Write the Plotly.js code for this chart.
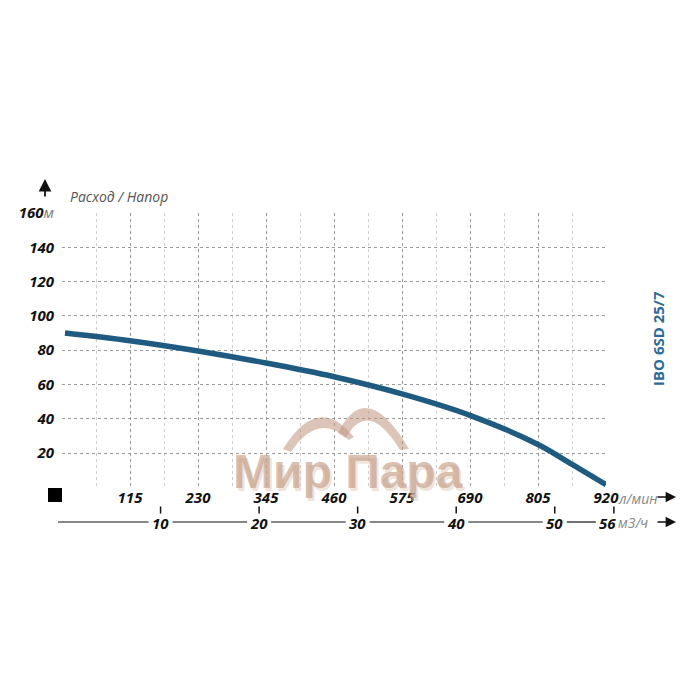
<!DOCTYPE html>
<html>
<head>
<meta charset="utf-8">
<script src="https://cdn.plot.ly/plotly-3.0.1.min.js"></script>
<style>html,body{margin:0;padding:0;background:#fff}</style>
</head>
<body>
<div id="chart" style="width:700px;height:700px"></div>
<script>
// ---- data ----
const flowLpm = [5, 115, 230, 345, 460, 575, 690, 805, 862, 920];
const headM   = [90, 85.5, 79.5, 72.5, 64.5, 54.5, 42, 25, 13.5, 1.5];
const lpmTicks = [0, 115, 230, 345, 460, 575, 690, 805, 920];
const lpmLabels = ['', '115', '230', '345', '460', '575', '690', '805', '920'];
const m3hTicks = [10, 20, 30, 40, 50, 56];
const m3hLabels = ['10', '20', '30', '40', '50', '56'];
const headTicks = [20, 40, 60, 80, 100, 120, 140, 160];
const headLabels = ['20', '40', '60', '80', '100', '120', '140', '160<span style="font-weight:normal;color:#777">м</span>'];
const headGrid = [0, 20, 40, 60, 80, 100, 120, 140];
const modelName = 'IBO 6SD 25/7';
const axisTitle = 'Расход / Напор';
const flowUnit = 'л/мин';
const flowUnit2 = 'м3/ч';
const watermark = 'Мир Пара';

// ---- layout geometry ----
const W = 700, H = 700;
const M = {l: 62, r: 60, t: 213, b: 160};
const PW = W - M.l - M.r, PH = H - M.t - M.b;
const px = x => (x - M.l) / PW;
const py = y => (H - M.b - y) / PH;
const xDomEnd = px(606);
const yDomStart = py(487.3);
const lpmMax = 920;
const m3hMax = lpmMax * 60 / 1000 / xDomEnd;   // xaxis2 spans the full paper width
const lastShift = -6;                           // px nudge of the last m3/h label

const numFont = {family: 'Open Sans, DejaVu Sans, sans-serif', size: 15, color: '#111', weight: 'bold', style: 'italic'};
const unitFont = {family: 'Open Sans, sans-serif', size: 14, color: '#888', style: 'italic'};

const traces = [
  {
    x: flowLpm, y: headM, type: 'scatter', mode: 'lines',
    line: {color: '#1f5b80', width: 5.5, shape: 'spline', smoothing: 1},
    hoverinfo: 'skip', xaxis: 'x', yaxis: 'y'
  },
  {
    // small tick marks above the m3/h labels
    x: m3hTicks, y: m3hTicks.map(() => 0.5), type: 'scatter', mode: 'markers',
    marker: {symbol: 'line-ns-open', size: 5, color: '#111', line: {color: '#111', width: 1.5}},
    cliponaxis: false, hoverinfo: 'skip', xaxis: 'x2', yaxis: 'y2', showlegend: false
  }
];

const annotations = m3hTicks.map((v, i) => ({
  xref: 'x2', yref: 'paper', x: v, y: py(522.5), text: m3hLabels[i],
  showarrow: false, font: numFont,
  xanchor: 'center', yanchor: 'middle', xshift: i === m3hTicks.length - 1 ? lastShift : 0
}));

annotations.push(
  {xref: 'paper', yref: 'paper', x: px(616), y: py(498), text: flowUnit, showarrow: false,
   xanchor: 'left', yanchor: 'middle', font: unitFont},
  {xref: 'paper', yref: 'paper', x: px(616), y: py(522.5), text: flowUnit2, showarrow: false,
   xanchor: 'left', yanchor: 'middle', font: unitFont},
  {xref: 'paper', yref: 'paper', x: px(676), y: py(497), ax: -20, ay: 0, text: '',
   showarrow: true, arrowhead: 2, arrowsize: 1.3, arrowwidth: 1.6, arrowcolor: '#111'},
  {xref: 'paper', yref: 'paper', x: px(676), y: py(522), ax: -20, ay: 0, text: '',
   showarrow: true, arrowhead: 2, arrowsize: 1.3, arrowwidth: 1.6, arrowcolor: '#111'},
  {xref: 'paper', yref: 'paper', x: px(45), y: py(179), ax: 0, ay: 19, text: '',
   showarrow: true, arrowhead: 2, arrowsize: 1.4, arrowwidth: 1.8, arrowcolor: '#111'},
  {xref: 'paper', yref: 'paper', x: px(68), y: py(197), text: axisTitle, showarrow: false,
   xanchor: 'left', yanchor: 'middle', font: {family: 'Open Sans, sans-serif', size: 14, color: '#555', style: 'italic'}},
  {xref: 'paper', yref: 'paper', x: px(658), y: py(339), text: modelName, showarrow: false,
   textangle: -90, xanchor: 'center', yanchor: 'middle',
   font: {family: 'Open Sans, sans-serif', size: 15, color: '#2c6b98', weight: 'bold'}},
  {xref: 'paper', yref: 'paper', x: px(350), y: py(474), text: watermark, showarrow: false,
   xanchor: 'center', yanchor: 'middle',
   font: {family: 'Liberation Sans, Arial, sans-serif', size: 48, color: 'rgba(225,205,190,0.55)', weight: 'bold'}},
  {xref: 'paper', yref: 'paper', x: px(347.5), y: py(471), text: watermark, showarrow: false,
   xanchor: 'center', yanchor: 'middle',
   font: {family: 'Liberation Sans, Arial, sans-serif', size: 48, color: 'rgba(192,150,125,0.6)', weight: 'bold'}}
);

const P = (x, y) => px(x).toFixed(4) + ',' + py(y).toFixed(4);
const shapes = [
  {type: 'rect', xref: 'paper', yref: 'paper', x0: px(48), x1: px(62), y0: py(502), y1: py(488),
   fillcolor: '#000', line: {width: 0}},
  {type: 'path', xref: 'paper', yref: 'paper', layer: 'above',
   path: 'M' + P(283, 449) + ' Q' + P(318, 392) + ' ' + P(354, 437) + ' L' + P(349, 440) +
         ' Q' + P(318, 411) + ' ' + P(291, 452) + ' Z',
   fillcolor: 'rgba(192,150,125,0.55)', line: {width: 0}},
  {type: 'path', xref: 'paper', yref: 'paper', layer: 'above',
   path: 'M' + P(338, 433) + ' Q' + P(366, 376) + ' ' + P(409, 449) + ' L' + P(400, 450) +
         ' Q' + P(368, 398) + ' ' + P(346, 438) + ' Z',
   fillcolor: 'rgba(192,150,125,0.55)', line: {width: 0}}
];

// m3/h scale line, broken around each label (xaxis2 spans paper 0..1)
const gap = 12 / PW;
let segStart = px(58);
m3hTicks.forEach((v, i) => {
  const c = v / m3hMax + (i === m3hTicks.length - 1 ? lastShift / PW : 0);
  shapes.push({type: 'line', xref: 'paper', yref: 'paper', x0: segStart, x1: c - gap,
               y0: py(522), y1: py(522), line: {color: '#111', width: 1.2}});
  segStart = c + gap;
});

const layout = {
  width: W, height: H, margin: M,
  paper_bgcolor: '#fff', plot_bgcolor: 'rgba(0,0,0,0)', showlegend: false,
  font: {family: 'Open Sans, sans-serif'},
  xaxis: {
    domain: [0, xDomEnd], range: [0, lpmMax], tickmode: 'array', tickvals: lpmTicks, ticktext: lpmLabels,
    showgrid: true, gridcolor: '#9a9a9a', griddash: 'dot', gridwidth: 1,
    minor: {dtick: 57.5, tick0: 0, showgrid: true, gridcolor: '#cfcfcf', griddash: 'dot', gridwidth: 1},
    zeroline: false, showline: false, ticks: '', tickfont: numFont, fixedrange: true, anchor: 'y'
  },
  xaxis2: {
    anchor: 'y2', side: 'bottom', domain: [0, 1],
    range: [0, m3hMax], showticklabels: false, ticks: '',
    showgrid: false, zeroline: false, showline: false
  },
  yaxis2: {
    anchor: 'x2', domain: [py(514), py(506)], showgrid: false, zeroline: false, showline: false,
    showticklabels: false, ticks: '', range: [0, 1]
  },
  yaxis: {
    anchor: 'x', domain: [yDomStart, 1], range: [0, 160], tickmode: 'array', tickvals: headTicks, ticktext: headLabels,
    showgrid: false, zeroline: false, showline: false, ticks: '', tickfont: numFont,
    ticklabelstandoff: 7,
    minor: {tickmode: 'array', tickvals: headGrid, showgrid: true, gridcolor: '#9a9a9a', griddash: 'dot', gridwidth: 1, ticks: ''}
  },
  annotations: annotations,
  shapes: shapes
};

Plotly.newPlot('chart', traces, layout, {staticPlot: true, displayModeBar: false});
</script>
</body>
</html>
